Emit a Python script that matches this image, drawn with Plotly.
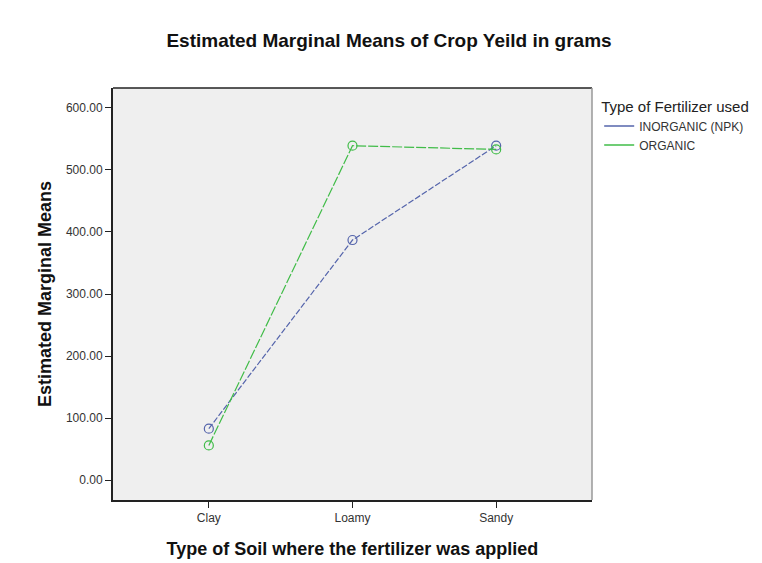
import plotly.graph_objects as go

soil_types = ["Clay", "Loamy", "Sandy"]
inorganic_means = [83, 387, 539]
organic_means = [56, 539, 533]
series_names = ["INORGANIC (NPK)", "ORGANIC"]
y_ticks = [0, 100, 200, 300, 400, 500, 600]

blue = "#5464ab"
green = "#40bc48"
xpos = list(range(len(soil_types)))

fig = go.Figure()
for name, vals, col, dash in [
    (series_names[0], inorganic_means, blue, "6px,2px"),
    (series_names[1], organic_means, green, "10px,2px"),
]:
    fig.add_trace(go.Scatter(
        x=xpos, y=vals, mode="lines+markers", name=name, showlegend=False,
        line=dict(color=col, width=1.2, dash=dash),
        marker=dict(symbol="circle-open", size=9, color=col, line=dict(width=1.2, color=col)),
    ))
    fig.add_trace(go.Scatter(
        x=[None], y=[None], mode="lines", name=name, showlegend=True,
        line=dict(color=col, width=1.5),
    ))

fig.update_layout(
    width=762, height=563,
    paper_bgcolor="white", plot_bgcolor="#efefef",
    margin=dict(l=105, r=178, t=80, b=71),
    font=dict(family="Liberation Sans, Arial", color="#222"),
    title=dict(text="<b>Estimated Marginal Means of Crop Yeild in grams</b>",
               x=0.5, xanchor="center", y=0.943, yanchor="middle",
               font=dict(size=19, color="#111")),
    legend=dict(
        title=dict(text="Type of Fertilizer used", font=dict(size=15, color="#222")),
        x=1.015, y=0.99, xanchor="left", yanchor="top",
        font=dict(size=12, color="#333"),
        bgcolor="rgba(0,0,0,0)", tracegroupgap=0, itemwidth=30,
    ),
    shapes=[
        dict(type="line", xref="paper", yref="paper", x0=0, x1=1, y0=1, y1=1,
             line=dict(color="#222", width=1.5)),
        dict(type="line", xref="paper", yref="paper", x0=1, x1=1, y0=0, y1=1,
             line=dict(color="#999", width=1.5)),
    ],
)
fig.update_xaxes(
    range=[-0.667, 2.667], tickmode="array", tickvals=xpos, ticktext=soil_types,
    showgrid=False, zeroline=False, showline=True, linecolor="#222", linewidth=2,
    ticks="outside", ticklen=6, tickcolor="#222", tickfont=dict(size=12, color="#333"),
    title=dict(text="<b>Type of Soil where the fertilizer was applied</b>",
               font=dict(size=18, color="#111"), standoff=18),
)
fig.update_yaxes(
    range=[-32, 632], tickmode="array", tickvals=y_ticks,
    ticktext=[f"{v:.2f}" for v in y_ticks],
    showgrid=False, zeroline=False, showline=True, linecolor="#222", linewidth=2,
    ticks="outside", ticklen=6, tickcolor="#222", tickfont=dict(size=12, color="#333"),
    title=dict(text="<b>Estimated Marginal Means</b>",
               font=dict(size=18, color="#111"), standoff=10),
)

fig.write_html("out.html")
